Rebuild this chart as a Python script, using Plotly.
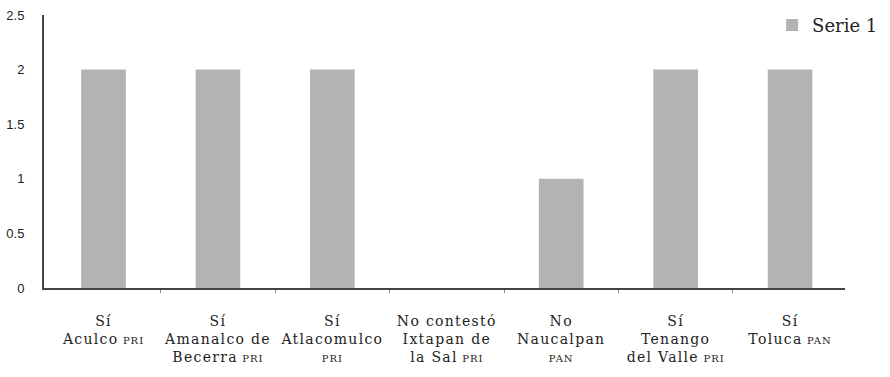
import plotly.graph_objects as go

respuestas = ["Sí", "Sí", "Sí", "No contestó", "No", "Sí", "Sí"]
municipios = [["Aculco"], ["Amanalco de", "Becerra"], ["Atlacomulco", ""], ["Ixtapan de", "la Sal"],
              ["Naucalpan", ""], ["Tenango", "del Valle"], ["Toluca"]]
partidos = ["PRI", "PRI", "PRI", "PRI", "PAN", "PRI", "PAN"]
valores = [2, 2, 2, 0, 1, 2, 2]
serie = "Serie 1"

def sp(t):
    return "<span style='letter-spacing:1.3px'>%s</span>" % t if t else ""

sc = "<span style='font-size:10px;letter-spacing:1px'>%s</span>"
labels = []
for r, m, p in zip(respuestas, municipios, partidos):
    lines = [sp(r)] + [sp(s) for s in m]
    lines[-1] = (lines[-1] + " " if lines[-1] else "") + sc % p
    labels.append("<br>".join(lines))

x = list(range(len(valores)))
fig = go.Figure(go.Bar(x=x, y=valores, name=serie, marker_color="#b3b3b3",
                       marker_line_width=0, showlegend=True))
fig.update_layout(
    width=890, height=377,
    margin=dict(l=44, r=45, t=15, b=89, autoexpand=False),
    paper_bgcolor="white", plot_bgcolor="white",
    bargap=0.61,
    legend=dict(x=0.909, y=1.03, xanchor="left", yanchor="top",
                font=dict(family="DejaVu Serif", size=18, color="#222"),
                bgcolor="rgba(0,0,0,0)", itemwidth=30),
    xaxis=dict(tickmode="array", tickvals=x, ticktext=labels, range=[-0.52, 6.48],
               showline=True, linecolor="#444", linewidth=2, ticks="", automargin=False,
               tickfont=dict(family="DejaVu Serif", size=14, color="#222"),
               showgrid=False, ticklabelstandoff=19,
               minor=dict(tickvals=[i + 0.5 for i in x[:-1]], ticks="outside",
                          ticklen=3, tickcolor="#888", tickwidth=1, showgrid=False)),
    yaxis=dict(range=[0, 2.5], dtick=0.5, showline=True, linecolor="#444", linewidth=2,
               ticks="", showgrid=False, zeroline=False, automargin=False,
               tickfont=dict(family="Liberation Sans", size=13, color="#222"),
               ticklabelstandoff=15),
)
fig.write_html("out.html", post_script="document.body.style.margin='0';",
               config={"displayModeBar": False})
